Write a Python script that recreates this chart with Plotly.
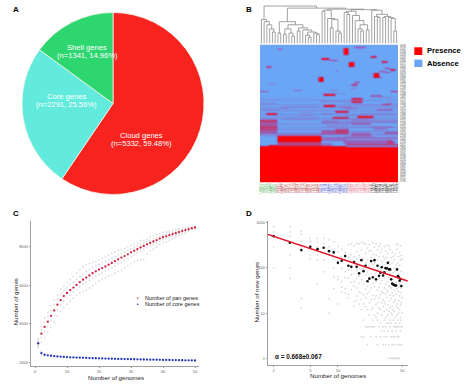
import plotly.graph_objects as go

W, H = 474, 388

# ---------- A: pie ----------
pie_labels = ["Cloud genes", "Core genes", "Shell genes"]
pie_counts = [5332, 2291, 1341]
pie_shares = ["59.48%", "25.56%", "14.96%"]
pie_colors = ["#F7231F", "#62EBDC", "#2ED670"]

# ---------- B: heatmap ----------
n_rows, n_cols = 138, 50
# (first row, last row, first col, last col, level)
heat_blocks = [
    (102, 137, 0, 49, 1), (101, 101, 0, 30, 1), (100, 100, 3, 5, 1),
    (91, 96, 6, 21, 1), (97, 100, 6, 21, .6), (88, 90, 6, 21, .3),
    (4, 4, 6, 7, .6), (3, 9, 30, 31, 1), (2, 2, 34, 37, .9), (13, 14, 22, 24, 1),
    (15, 15, 25, 27, .8), (11, 12, 40, 41, .9), (16, 17, 44, 45, .9), (17, 21, 32, 33, 1),
    (21, 22, 2, 3, .7), (23, 23, 45, 46, .9), (24, 25, 47, 48, .9), (26, 26, 43, 44, .8),
    (27, 27, 45, 46, .7), (28, 32, 41, 42, 1), (32, 32, 42, 43, .8), (32, 36, 21, 22, 1),
    (26, 26, 27, 27, .5), (37, 37, 34, 35, .9), (39, 40, 33, 34, .7), (38, 38, 3, 4, .3),
    (43, 43, 33, 34, .3), (46, 46, 0, 2, .6), (45, 45, 12, 14, .45), (45, 45, 25, 27, .35),
    (46, 46, 47, 49, .9), (49, 50, 23, 26, .95), (50, 51, 40, 43, .5), (52, 52, 43, 47, .3),
    (53, 54, 33, 36, .9), (56, 57, 33, 36, .9), (55, 55, 21, 23, .3), (58, 58, 46, 47, .4),
    (60, 61, 23, 26, .95), (59, 59, 44, 46, .9), (61, 61, 28, 32, .4), (63, 63, 30, 34, .4),
    (63, 63, 7, 9, .25), (65, 65, 21, 24, .3), (66, 67, 27, 31, .85), (64, 65, 42, 47, .45),
    (68, 69, 2, 5, .95), (68, 68, 22, 25, .35), (70, 70, 14, 18, .2), (71, 72, 35, 40, .95),
    (72, 73, 26, 31, .85), (74, 74, 0, 5, .2), (74, 74, 33, 39, .25),
    (75, 76, 0, 5, .75), (77, 80, 0, 5, .5), (81, 84, 0, 5, .65), (85, 88, 0, 5, .5),
    (90, 90, 0, 5, .35), (78, 79, 33, 39, .45), (76, 76, 22, 27, .3), (80, 80, 24, 31, .35),
    (81, 81, 40, 47, .3), (84, 88, 27, 31, .65), (85, 89, 22, 26, .5), (88, 90, 33, 39, .5),
    (83, 84, 41, 45, .3), (87, 88, 45, 49, .45), (91, 92, 30, 40, .25), (94, 94, 22, 30, .3),
    (96, 98, 30, 48, .45), (99, 100, 31, 49, .6), (98, 100, 22, 25, .35), (95, 98, 46, 47, .65),
    (58, 58, 0, 4, .25), (61, 61, 8, 20, .2), (64, 64, 0, 6, .2), (67, 67, 14, 19, .2),
    (71, 71, 0, 20, .15), (74, 74, 8, 20, .18), (77, 77, 6, 20, .15), (82, 82, 6, 21, .18),
    (86, 86, 8, 21, .14), (53, 53, 0, 20, .12), (56, 56, 22, 32, .22), (48, 48, 22, 30, .2),
    (70, 70, 28, 48, .2), (76, 76, 33, 49, .2), (60, 60, 34, 49, .2), (68, 68, 36, 49, .22),
    (55, 55, 0, 49, .18), (59, 59, 0, 49, .2), (62, 62, 0, 49, .22), (65, 65, 0, 49, .25),
    (69, 69, 0, 49, .22), (73, 73, 0, 49, .28), (77, 77, 22, 49, .35), (79, 79, 6, 21, .2),
    (82, 82, 22, 49, .38), (84, 84, 6, 21, .2), (86, 86, 32, 49, .35), (89, 89, 22, 49, .4),
    (92, 93, 22, 49, .4), (95, 95, 22, 45, .45), (78, 78, 22, 32, .3), (75, 75, 22, 49, .25),
]
row_label_text = ["0059", "0147", "0233", "0318", "0402", "0496", "0571", "0664", "0732", "0819",
                  "0904", "0987", "1066", "1154", "1239", "1321", "1408", "1487", "1572", "1650",
                  "1733", "1815", "1902", "1988", "2064", "2151", "2236", "2310", "2397", "2473",
                  "2558", "2642", "2729", "2811", "2896", "2970", "3055", "3138", "3216", "3304",
                  "3387", "3462", "3549", "3628", "3711", "3795"]
col_labels = ["HN%03d" % (i + 1) for i in range(n_cols)]
col_groups = [(0, 5, "#4FAF56"), (6, 21, "#B84A4A"), (22, 31, "#4A5AD0"), (32, 39, "#E8788C"), (40, 49, "#333333")]
# Dendrogram as nested merges: [height, left, right]; 0 is a leaf
x = 0
dendro_left = [23, x, [21, x, [18, x, [14, x, [11, x, x]]]]]
dendro_mid = [21, [10, x, x],
              [18, [14, [9, x, x], [10, x, [7, x, x]]],
               [15, [12, x, x], [13, x, [11, [8, x, [6, x, x]], [10, x, [9, x, x]]]]]]]
dendro_d1 = [32, [31, x, x], [24, x, [23, [15, x, x], [12, x, [10, x, x]]]]]
dendro_d2 = [31, [30, x, [28, x, x]], [27, x, [22, x, [18, [14, x, [12, x, x]], [13, x, x]]]]]
dendro_d3 = [32, x, [28, [26, x, [25, x, x]], [26, [25, x, x], [25, x, [24, x, [12, x, x]]]]]]
dendro_root = [36, dendro_left, [34, dendro_mid, [33, dendro_d1, [32.5, dendro_d2, dendro_d3]]]]

# ---------- C: accumulation curves ----------
genome_counts = list(range(1, 51))
pan_median = [3000, 3500, 3850, 4120, 4420, 4700, 5000, 5230, 5440, 5600,
              5750, 5880, 6020, 6160, 6290, 6400, 6510, 6620, 6720, 6810,
              6890, 6970, 7060, 7150, 7250, 7340, 7430, 7510, 7600, 7700,
              7780, 7860, 7950, 8030, 8110, 8190, 8260, 8330, 8410, 8480,
              8530, 8590, 8640, 8690, 8750, 8800, 8850, 8900, 8950, 8985]
pan_high2 = [3250, 3900, 4300, 4600, 4950, 5250, 5500, 5800, 5950, 6150,
             6300, 6450, 6620, 6800, 6950, 7050, 7120, 7180, 7230, 7300,
             7380, 7450, 7560, 7640, 7720, 7800, 7850, 7900, 7980, 8050,
             8100, 8180, 8300, 8330, 8380, 8480, 8550, 8620, 8680, 8730,
             8770, 8800, 8850, 8880, 8920, 8950, 8980, 9000, 9000, 9000]
pan_high1 = [3130, 3700, 4100, 4380, 4700, 5000, 5280, 5520, 5720, 5880,
             6030, 6170, 6320, 6460, 6600, 6720, 6820, 6920, 7010, 7090,
             7160, 7240, 7320, 7400, 7490, 7570, 7640, 7710, 7790, 7870,
             7950, 8020, 8110, 8180, 8250, 8330, 8400, 8460, 8530, 8590,
             8640, 8690, 8730, 8770, 8820, 8860, 8900, 8940, 8970, 8990]
pan_low1 = [2900, 3320, 3620, 3880, 4180, 4460, 4740, 4980, 5180, 5350,
            5500, 5640, 5780, 5920, 6040, 6150, 6260, 6370, 6470, 6560,
            6640, 6730, 6820, 6910, 7000, 7100, 7190, 7280, 7380, 7480,
            7570, 7660, 7770, 7860, 7950, 8040, 8110, 8190, 8280, 8350,
            8410, 8470, 8530, 8590, 8650, 8720, 8780, 8840, 8910, 8970]
pan_low2 = [2780, 3050, 3300, 3560, 3820, 4100, 4400, 4650, 4850, 5020,
            5180, 5330, 5470, 5600, 5680, 5760, 5860, 5980, 6100, 6210,
            6290, 6380, 6470, 6550, 6620, 6710, 6800, 6890, 7000, 7110,
            7210, 7290, 7330, 7340, 7620, 7780, 7880, 7980, 8100, 8200,
            8250, 8320, 8400, 8470, 8540, 8620, 8700, 8790, 8870, 8950]
core_median = [3000, 2490, 2410, 2380, 2360, 2340, 2325, 2310, 2300, 2290,
               2280, 2272, 2265, 2258, 2252, 2246, 2240, 2235, 2230, 2225,
               2220, 2215, 2210, 2206, 2202, 2198, 2194, 2190, 2186, 2182,
               2178, 2174, 2170, 2166, 2162, 2158, 2155, 2152, 2149, 2146,
               2143, 2140, 2137, 2134, 2131, 2128, 2125, 2122, 2119, 2115]
core_spread_x = [1, 1, 1, 2, 2, 3]
core_spread_y = [3240, 2860, 2800, 2600, 2380, 2340]

# ---------- D: new genes ----------
new_x = list(range(2, 50))
new_median = [507, 361, 249, 294, 261, 280, 236, 221, 130, 144, 183, 112, 106, 135, 106, 76,
              149, 85, 112, 51, 58, 142, 62, 149, 56, 112, 67, 78, 104, 68, 80, 99,
              98, 130, 93, 93, 56, 45, 43, 42, 41, 41, 93, 66, 62, 52, 57, 40]
fit_x = [1.73, 57.5]
fit_y = [554, 51.3]
new_gray = {
    2: [815, 632, 294, 98], 3: [815, 632, 507, 380, 193, 98, 59],
    4: [660, 560, 380, 294, 21, 13], 5: [450, 380, 300, 193, 160], 6: [450, 380, 294, 249, 193, 149, 45],
    7: [450, 350, 150, 82], 8: [420, 294, 193, 21, 10], 9: [380, 249, 160, 98, 64, 35],
    10: [300, 230, 140, 64, 55, 16], 11: [260, 180, 98, 50, 38, 30], 12: [220, 150, 82, 62, 35, 28],
    13: [330, 170, 90, 60, 26, 22], 14: [340, 200, 110, 70, 48, 33], 15: [310, 180, 75, 50, 40, 18, 14],
    16: [350, 230, 160, 88, 58, 36, 24, 19], 17: [340, 190, 120, 66, 46, 30, 16], 18: [370, 250, 92, 55, 28, 20, 12, 3],
    19: [350, 160, 95, 43, 26, 16, 7, 3], 20: [340, 210, 130, 70, 34, 22, 14, 5], 21: [280, 150, 80, 40, 27, 12, 5, 2],
    22: [330, 240, 110, 60, 30, 17, 9, 5], 23: [240, 170, 75, 36, 20, 12, 5, 3], 24: [360, 200, 120, 46, 25, 13, 7, 5],
    25: [290, 130, 70, 38, 21, 9, 5], 26: [340, 190, 78, 50, 24, 15, 8, 3], 27: [250, 150, 95, 33, 17, 10, 7, 2],
    28: [300, 175, 60, 38, 22, 13, 5], 29: [340, 220, 88, 45, 26, 12, 6, 3], 30: [260, 140, 52, 30, 17, 9, 4],
    31: [180, 110, 70, 28, 20, 14, 5, 2], 32: [300, 160, 60, 36, 18, 11, 7, 4, 3], 33: [240, 120, 44, 27, 16, 8, 5, 2],
    34: [320, 170, 85, 33, 22, 12, 6, 3], 35: [210, 105, 50, 30, 15, 9, 4, 1], 36: [300, 140, 62, 40, 19, 11, 6, 2],
    37: [260, 120, 75, 25, 13, 7, 5, 1], 38: [170, 90, 36, 21, 10, 6, 3, 1], 39: [220, 130, 47, 28, 14, 9, 4, 2, 1],
    40: [180, 78, 55, 24, 12, 7, 3, 1], 41: [150, 100, 32, 18, 11, 5, 2, 1], 42: [200, 85, 40, 20, 8, 5, 3, 1],
    43: [330, 120, 48, 26, 14, 6, 4, 1], 44: [260, 95, 35, 16, 9, 5, 2, 1], 45: [340, 130, 66, 30, 13, 7, 3, 1],
    46: [180, 72, 38, 19, 10, 5, 3, 1], 47: [220, 115, 45, 24, 12, 6, 2, 1], 48: [310, 150, 58, 28, 15, 8, 4],
    49: [190, 85, 36, 17, 7, 5, 2], 50: [160, 50, 22, 10, 5],
}


def fx(a, b):
    return [a / W, b / W]


def fy(top, bottom):
    return [1 - bottom / H, 1 - top / H]


def dendro_segments(root):
    xs, ys = [], []
    leaf = [0]

    def walk(node):
        if node == 0:
            pos = leaf[0]
            leaf[0] += 1
            return pos, 0
        h, l, r = node
        lx, lh = walk(l)
        rx, rh = walk(r)
        xs.extend([lx, lx, rx, rx, None])
        ys.extend([lh, h, h, rh, None])
        return (lx + rx) / 2, h

    walk(root)
    return xs, ys


matrix = [[0.0] * n_cols for _ in range(n_rows)]
for r0, r1, c0, c1, v in heat_blocks:
    for r in range(r0, r1 + 1):
        for c in range(c0, c1 + 1):
            matrix[r][c] = max(matrix[r][c], v)

fig = go.Figure()

fig.add_trace(go.Pie(labels=pie_labels, values=pie_counts, marker=dict(colors=pie_colors, line=dict(color="#F4F4E8", width=0.8)),
                     sort=False, direction="clockwise", rotation=0, textinfo="none",
                     domain=dict(x=fx(22, 204), y=fy(12.5, 194.5)), showlegend=False, hoverinfo="label+value"))

dx, dy = dendro_segments(dendro_root)
fig.add_trace(go.Scatter(x=dx, y=dy, mode="lines", line=dict(color="#8A8A8A", width=0.8), xaxis="x", yaxis="y", showlegend=False))
fig.add_trace(go.Heatmap(z=matrix, zmin=0, zmax=1, zsmooth="best",
                         colorscale=[[0, "#6AA6F5"], [0.45, "#9462BC"], [1, "#FF0000"]], showscale=False,
                         xaxis="x2", yaxis="y2"))

gray_c = "#DCDCDC"
for arr in (pan_high2, pan_high1, pan_low1, pan_low2):
    fig.add_trace(go.Scatter(x=genome_counts, y=arr, mode="markers", marker=dict(color=gray_c, size=1.8), xaxis="x3", yaxis="y3", showlegend=False))
fig.add_trace(go.Scatter(x=core_spread_x, y=core_spread_y, mode="markers", marker=dict(color=gray_c, size=1.8), xaxis="x3", yaxis="y3", showlegend=False))
fig.add_trace(go.Scatter(x=genome_counts, y=pan_median, mode="markers", marker=dict(color="#D2203F", size=2.3), xaxis="x3", yaxis="y3", showlegend=False))
fig.add_trace(go.Scatter(x=genome_counts, y=core_median, mode="markers", marker=dict(color="#2233B5", size=2.3), xaxis="x3", yaxis="y3", showlegend=False))

gx, gy = [], []
for k, vals in new_gray.items():
    gx.extend([k] * len(vals))
    gy.extend(vals)
fig.add_trace(go.Scatter(x=gx, y=gy, mode="markers", marker=dict(color="#DADADA", size=1.8), xaxis="x4", yaxis="y4", showlegend=False))
fig.add_trace(go.Scatter(x=new_x, y=new_median, mode="markers", marker=dict(color="#111111", size=2.6), xaxis="x4", yaxis="y4", showlegend=False))
fig.add_trace(go.Scatter(x=fit_x, y=fit_y, mode="lines", line=dict(color="#E0182F", width=1.5), xaxis="x4", yaxis="y4", showlegend=False))

annotations = []


def text(px, py, s, size, color="#111111", bold=False, anchor="center", angle=0):
    annotations.append(dict(x=px / W, y=1 - py / H, xref="paper", yref="paper", text=("<b>%s</b>" % s) if bold else s,
                            showarrow=False, xanchor=anchor, yanchor="middle", textangle=angle,
                            font=dict(family="Liberation Sans", size=size, color=color)))


for lbl, px, py in (("A", 15.5, 9.5), ("B", 249.5, 9.5), ("C", 15.5, 213), ("D", 249.5, 213)):
    text(px, py, lbl, 8, bold=True, color="#000000")

pie_text_pos = [(141.7, 135, 143.7), (66.7, 96, 104.5), (87, 47.3, 56)]
for name, n, share, (px, y1, y2) in zip(pie_labels, pie_counts, pie_shares, pie_text_pos):
    text(px, y1, name, 7.6, color="#FFFFFF")
    text(px, y2, "(n=%d, %s)" % (n, share), 7.6, color="#FFFFFF")

for i, lbl in enumerate(col_labels):
    color = next(c for a, b, c in col_groups if a <= i <= b)
    text(260 + (i + 0.5) * 2.76, 188, lbl, 3, color=color, angle=-90)

text(425, 51, "Presence", 7.6, bold=True, anchor="left", color="#000000")
text(425, 63.3, "Absence", 7.6, bold=True, anchor="left", color="#000000")
text(143.3, 298, "Number of pan genes", 5.5, anchor="left", color="#222222")
text(143.3, 304.3, "Number of core genes", 5.5, anchor="left", color="#222222")
text(272.5, 356.5, "α = 0.668±0.067", 6.4, bold=True, anchor="left", color="#111111")
# axis titles
text(116, 377.5, "Number of genomes", 6.2, color="#222222")
text(15, 302.5, "Number of genes", 6.2, color="#222222", angle=-90)
text(337.5, 375, "Number of genomes", 6.2, color="#222222")
text(255.5, 292, "Number of new genes", 6.2, color="#222222", angle=-90)

shapes = [
    dict(type="rect", xref="paper", yref="paper", x0=414.3 / W, x1=422.3 / W, y0=1 - 55 / H, y1=1 - 47.3 / H, fillcolor="#FF0000", line_width=0),
    dict(type="rect", xref="paper", yref="paper", x0=414.3 / W, x1=422.3 / W, y0=1 - 67 / H, y1=1 - 59.6 / H, fillcolor="#6AA6F5", line_width=0),
    dict(type="circle", xref="paper", yref="paper", x0=136.9 / W, x1=138.5 / W, y0=1 - 298.8 / H, y1=1 - 297.2 / H, fillcolor="#D2203F", line_width=0),
    dict(type="circle", xref="paper", yref="paper", x0=136.9 / W, x1=138.5 / W, y0=1 - 305.1 / H, y1=1 - 303.5 / H, fillcolor="#2233B5", line_width=0),
]

axis_font = dict(family="Liberation Sans", size=4, color="#666666")
line = dict(showline=True, linecolor="#A0A0A0", linewidth=1.3, showgrid=False, zeroline=False, ticks="outside", ticklen=1,
            tickcolor="#999999", tickwidth=0.6, tickfont=axis_font)

fig.update_layout(
    width=W, height=H, margin=dict(l=0, r=0, t=0, b=0), autosize=False,
    paper_bgcolor="white", plot_bgcolor="white", showlegend=False,
    annotations=annotations, shapes=shapes,
    xaxis=dict(domain=fx(260, 398), range=[-0.5, 49.5], visible=False),
    yaxis=dict(domain=fy(5, 43.5), range=[0, 37], visible=False),
    xaxis2=dict(domain=fx(260, 398), range=[-0.5, 49.5], visible=False, anchor="y2"),
    yaxis2=dict(domain=fy(44.5, 182.5), range=[137.5, -0.5], anchor="x2", side="right", showgrid=False, zeroline=False,
                tickmode="array", tickvals=list(range(1, 138, 3)), ticktext=row_label_text, ticks="",
                tickfont=dict(family="Liberation Sans", size=2.6, color="#444444"), ticklabelstandoff=1),
    xaxis3=dict(domain=fx(31, 199), range=[-1.25, 51.25], anchor="y3", tickmode="array", tickvals=[0, 10, 20, 30, 40, 50], **line),
    yaxis3=dict(domain=fy(221, 366), range=[1830, 9320], anchor="x3", tickmode="array", tickvals=[2000, 4000, 6000, 8000], **line),
    xaxis4=dict(domain=fx(268, 408), type="log", range=[0.239, 1.763], anchor="y4", tickmode="array", tickvals=[2, 5, 10, 50],
                ticktext=["2", "5", "10", "50"], **line),
    yaxis4=dict(domain=fy(221, 365), type="log", range=[-0.148, 3.04], anchor="x4", tickmode="array", tickvals=[1, 10, 100, 1000],
                ticktext=["1", "10", "100", "1000"], **line),
)

fig.write_html("out.html", config=dict(displayModeBar=False),
               post_script="document.body.style.margin='0';document.body.style.overflow='hidden';")
